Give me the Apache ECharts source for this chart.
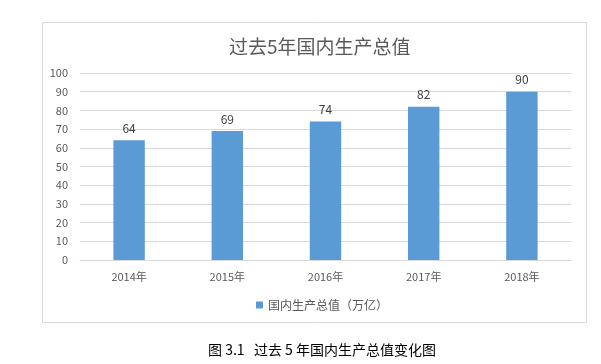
<!DOCTYPE html>
<html><head><meta charset="utf-8">
<script src="https://cdn.jsdelivr.net/npm/echarts@6/dist/echarts.min.js"></script>
<style>html,body{margin:0;padding:0;background:#fff;}#c{width:601px;height:364px;}</style>
</head><body><div id="c"></div>
<script>
const categories = ['2014年','2015年','2016年','2017年','2018年'];
const values = [64, 69, 74, 82, 90];
const seriesName = '国内生产总值（万亿）';
const titleText = '过去5年国内生产总值';
const captionText = '图 3.1   过去 5 年国内生产总值变化图';

const chart = echarts.init(document.getElementById('c'));
const font = '"Noto Sans CJK SC", "Microsoft YaHei", sans-serif';
chart.setOption({
  animation: false,
  textStyle: {fontFamily: font},
  title: {
    text: titleText, left: 224, top: 32,
    textStyle: {fontSize: 19, fontWeight: 'normal', color: '#595959', fontFamily: font}
  },
  legend: {
    data: [seriesName], top: 294, left: 251, itemWidth: 7, itemHeight: 7, itemGap: 2,
    icon: 'rect',
    textStyle: {fontSize: 12, color: '#595959', fontFamily: font}
  },
  grid: {left: 80, right: 30, top: 73, bottom: 104, containLabel: false},
  xAxis: {
    type: 'category', data: categories,
    axisLine: {lineStyle: {color: '#D9D9D9'}},
    axisTick: {show: false},
    axisLabel: {fontSize: 11, color: '#595959', margin: 11, fontFamily: font}
  },
  yAxis: {
    type: 'value', min: 0, max: 100, interval: 10,
    axisLine: {show: false}, axisTick: {show: false},
    axisLabel: {fontSize: 11, color: '#595959', margin: 12, fontFamily: font},
    splitLine: {lineStyle: {color: '#D9D9D9'}}
  },
  series: [{
    name: seriesName, type: 'bar', data: values, barWidth: '32%',
    itemStyle: {color: '#5B9BD5'},
    label: {show: true, position: 'top', distance: 6, fontSize: 12, color: '#404040', fontFamily: font}
  }],
  graphic: [
    {type: 'rect', shape: {x: 42.5, y: 22.5, width: 544, height: 300}, style: {fill: 'none', stroke: '#D9D9D9', lineWidth: 1}, z: -1},
    {type: 'text', left: 208, top: 343, style: {text: captionText, font: '14px "Noto Sans CJK SC", serif', fill: '#000'}}
  ]
});
</script></body></html>
